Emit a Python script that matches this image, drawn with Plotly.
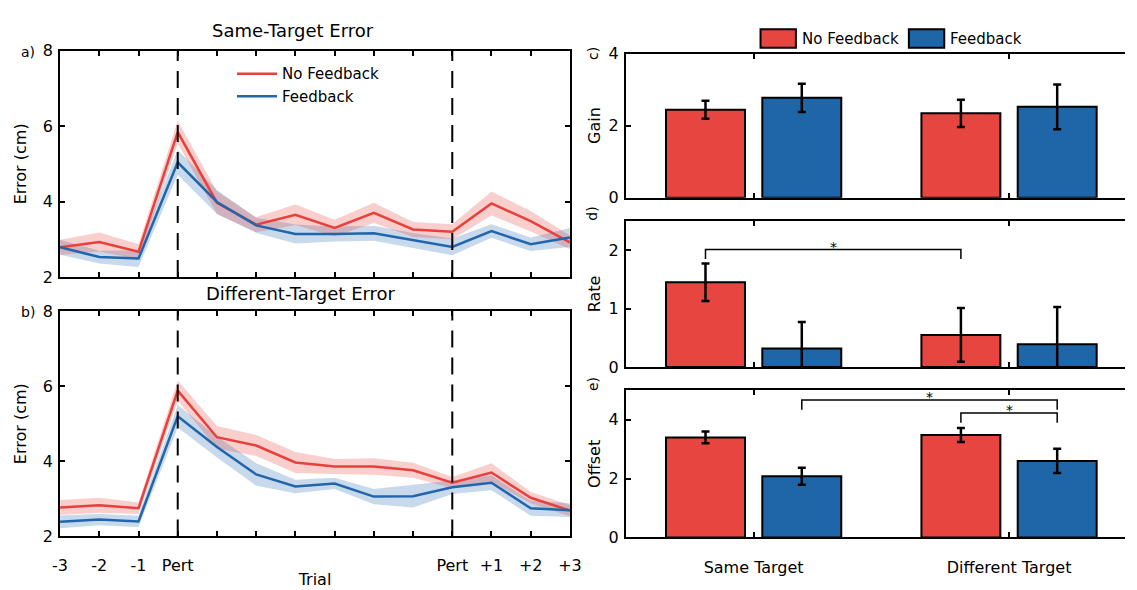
import plotly.graph_objects as go

# ---------------- data ----------------
trial_labels = ["-3", "-2", "-1", "Pert", "", "", "", "", "", "", "Pert", "+1", "+2", "+3"]
trial_idx = list(range(len(trial_labels)))
pert_positions = [3, 10]

same_nofb = [2.79, 2.93, 2.67, 5.84, 3.97, 3.39, 3.65, 3.30, 3.70, 3.26, 3.20, 3.95, 3.48, 2.92]
same_nofb_se = [0.20, 0.25, 0.20, 0.30, 0.30, 0.20, 0.27, 0.22, 0.27, 0.20, 0.20, 0.32, 0.27, 0.18]
same_fb = [2.79, 2.53, 2.49, 5.04, 3.99, 3.37, 3.14, 3.14, 3.16, 2.97, 2.80, 3.22, 2.87, 3.05]
same_fb_se = [0.20, 0.17, 0.22, 0.33, 0.32, 0.20, 0.25, 0.20, 0.20, 0.20, 0.22, 0.18, 0.18, 0.25]

diff_nofb = [2.77, 2.83, 2.75, 5.88, 4.64, 4.42, 3.97, 3.86, 3.86, 3.76, 3.43, 3.70, 3.03, 2.69]
diff_nofb_se = [0.20, 0.20, 0.15, 0.27, 0.30, 0.28, 0.28, 0.20, 0.22, 0.20, 0.15, 0.25, 0.15, 0.15]
diff_fb = [2.39, 2.45, 2.40, 5.20, 4.38, 3.65, 3.33, 3.41, 3.06, 3.07, 3.31, 3.43, 2.75, 2.70]
diff_fb_se = [0.17, 0.15, 0.15, 0.30, 0.28, 0.30, 0.18, 0.15, 0.20, 0.30, 0.18, 0.20, 0.20, 0.18]

groups = ["Same Target", "Different Target"]
gain_nofb = [2.44, 2.34]
gain_nofb_err = [0.25, 0.38]
gain_fb = [2.77, 2.52]
gain_fb_err = [0.39, 0.62]

rate_nofb = [1.45, 0.55]
rate_nofb_err = [0.32, 0.46]
rate_fb = [0.32, 0.39]
rate_fb_err = [0.45, 0.64]

offset_nofb = [3.40, 3.48]
offset_nofb_err = [0.20, 0.24]
offset_fb = [2.08, 2.60]
offset_fb_err = [0.29, 0.41]

# significance brackets: (left bar (group, series), right bar (group, series), bracket y, leg bottom y)
rate_sig = [((0, 0), (1, 0), 2.01, 1.85)]
offset_sig = [((0, 1), (1, 1), 4.67, 4.34), ((1, 0), (1, 1), 4.23, 3.90)]

# ---------------- style ----------------
RED_LINE = "#E8403A"
BLUE_LINE = "#2166AC"
RED_FILL = "rgba(232,64,58,0.25)"
BLUE_FILL = "rgba(33,102,172,0.25)"
RED_BAR = "#E6463F"
BLUE_BAR = "#1F66A8"
FONT = "DejaVu Sans"
W, H = 1137, 590

bargap = 0.246
bargroupgap = 0.18
off = (1 - bargap) / 4  # centre offset of each bar within a group

def px_x(v):
    return v / W

def px_y(v):
    return 1 - v / H

fig = go.Figure()

# ---------- left line panels ----------
def add_band(xa, ya, mean, se, fill):
    up = [m + s for m, s in zip(mean, se)]
    lo = [m - s for m, s in zip(mean, se)]
    fig.add_trace(go.Scatter(
        x=trial_idx + trial_idx[::-1], y=up + lo[::-1], fill="toself",
        fillcolor=fill, line=dict(width=0), mode="lines", hoverinfo="skip",
        showlegend=False, xaxis=xa, yaxis=ya))

for xa, ya, nofb, nofb_se, fb, fb_se, leg in [
    ("x", "y", same_nofb, same_nofb_se, same_fb, same_fb_se, True),
    ("x2", "y2", diff_nofb, diff_nofb_se, diff_fb, diff_fb_se, False),
]:
    add_band(xa, ya, fb, fb_se, BLUE_FILL)
    add_band(xa, ya, nofb, nofb_se, RED_FILL)
    fig.add_trace(go.Scatter(x=trial_idx, y=nofb, mode="lines", name="No Feedback",
                             line=dict(color=RED_LINE, width=2.5), showlegend=leg,
                             xaxis=xa, yaxis=ya))
    fig.add_trace(go.Scatter(x=trial_idx, y=fb, mode="lines", name="Feedback",
                             line=dict(color=BLUE_LINE, width=2.5), showlegend=leg,
                             xaxis=xa, yaxis=ya))

# dashed perturbation lines
for xa, ya in [("x", "y"), ("x2", "y2")]:
    for p in pert_positions:
        fig.add_shape(type="line", xref=xa, x0=p, x1=p,
                      yref=ya + " domain", y0=0, y1=1,
                      line=dict(color="black", width=2, dash="17px,10px"))

# ---------- right bar panels ----------
bar_sets = [
    ("x3", "y3", gain_nofb, gain_nofb_err, gain_fb, gain_fb_err),
    ("x4", "y4", rate_nofb, rate_nofb_err, rate_fb, rate_fb_err),
    ("x5", "y5", offset_nofb, offset_nofb_err, offset_fb, offset_fb_err),
]
for xa, ya, nf, nfe, fbv, fbe in bar_sets:
    for vals, errs, col, name in [(nf, nfe, RED_BAR, "No Feedback"), (fbv, fbe, BLUE_BAR, "Feedback")]:
        fig.add_trace(go.Bar(
            x=groups, y=vals, name=name, showlegend=False,
            marker=dict(color=col, line=dict(color="black", width=2)),
            error_y=dict(type="data", array=errs, color="black", thickness=2.5, width=4),
            xaxis=xa, yaxis=ya, offsetgroup=name))

# significance brackets
def bar_x(g, s):
    return g + (-off if s == 0 else off)

for xa, ya, sigs in [("x4", "y4", rate_sig), ("x5", "y5", offset_sig)]:
    for (lg, rg, ytop, ybot) in sigs:
        xl = bar_x(*lg)
        xr = bar_x(*rg)
        fig.add_shape(type="path", xref=xa, yref=ya,
                      path=f"M {xl},{ybot} L {xl},{ytop} L {xr},{ytop} L {xr},{ybot}",
                      line=dict(color="black", width=1.5))
        fig.add_annotation(x=(xl + xr) / 2, y=ytop, xref=xa, yref=ya, text="*",
                           showarrow=False, yanchor="bottom", yshift=-7,
                           font=dict(family=FONT, size=14, color="black"))

# custom bar legend (patches)
leg_items = [(766, 802, 806, "No Feedback", RED_BAR), (917, 953, 957, "Feedback", BLUE_BAR)]
for x0, x1, tx, label, col in leg_items:
    fig.add_shape(type="rect", xref="paper", yref="paper",
                  x0=px_x(x0), x1=px_x(x1), y0=px_y(40), y1=px_y(21),
                  fillcolor=col, line=dict(color="black", width=2))
    fig.add_annotation(x=px_x(tx), y=px_y(31), xref="paper", yref="paper", text=label,
                       showarrow=False, xanchor="left", yanchor="middle",
                       font=dict(family=FONT, size=15, color="black"))

# ---------- axes ----------
LEFT_X = [px_x(53), px_x(572)]
RIGHT_X = [px_x(629), 1.0]
tickfont = dict(family=FONT, size=16, color="black")
titlefont = dict(family=FONT, size=16, color="black")

common_axis = dict(showline=True, linecolor="black", linewidth=2, ticks="inside",
                   tickcolor="black", tickwidth=2, ticklen=5, showgrid=False,
                   zeroline=False, tickfont=tickfont)

fig.update_layout(
    xaxis=dict(common_axis, domain=LEFT_X, anchor="y", range=[0, 13],
               tickvals=trial_idx, showticklabels=False, mirror="ticks"),
    yaxis=dict(common_axis, domain=[px_y(277), px_y(43)], anchor="x", range=[2, 8],
               tickvals=[2, 4, 6, 8], mirror="ticks", ticklabelstandoff=2,
               title=dict(text="Error (cm)", font=titlefont, standoff=12)),
    xaxis2=dict(common_axis, domain=LEFT_X, anchor="y2", range=[0, 13],
                tickvals=trial_idx, ticktext=trial_labels, mirror="ticks",
                ticklabelstandoff=13,
                title=dict(text="Trial", font=titlefont, standoff=0)),
    yaxis2=dict(common_axis, domain=[px_y(545), px_y(312)], anchor="x2", range=[2, 8],
                tickvals=[2, 4, 6, 8], mirror="ticks", ticklabelstandoff=2,
                title=dict(text="Error (cm)", font=titlefont, standoff=12)),
    xaxis3=dict(common_axis, domain=RIGHT_X, anchor="y3", range=[-0.5, 1.454],
                type="category", showticklabels=False, mirror="ticks"),
    yaxis3=dict(common_axis, domain=[px_y(195), px_y(46)], anchor="x3", range=[0, 4],
                tickvals=[0, 2, 4], ticklabelstandoff=2,
                title=dict(text="Gain", font=titlefont, standoff=4)),
    xaxis4=dict(common_axis, domain=RIGHT_X, anchor="y4", range=[-0.5, 1.454],
                type="category", showticklabels=False, mirror="ticks"),
    yaxis4=dict(common_axis, domain=[px_y(370), px_y(219)], anchor="x4", range=[0, 2.5],
                tickvals=[0, 1, 2], ticklabelstandoff=2,
                title=dict(text="Rate", font=titlefont, standoff=4)),
    xaxis5=dict(common_axis, domain=RIGHT_X, anchor="y5", range=[-0.5, 1.454],
                type="category", mirror="ticks", ticklabelstandoff=14),
    yaxis5=dict(common_axis, domain=[px_y(546), px_y(394)], anchor="x5", range=[0, 5],
                tickvals=[0, 2, 4], ticklabelstandoff=2,
                title=dict(text="Offset", font=titlefont, standoff=4)),
    barmode="group", bargap=bargap, bargroupgap=bargroupgap,
    width=W, height=H, margin=dict(l=0, r=0, t=0, b=0),
    paper_bgcolor="white", plot_bgcolor="white",
    font=dict(family=FONT, size=15, color="black"),
    legend=dict(x=px_x(228), y=px_y(50), xanchor="left", yanchor="top",
                bgcolor="rgba(0,0,0,0)", font=dict(family=FONT, size=15, color="black"),
                itemwidth=40, tracegroupgap=0),
)

# titles and panel letters
for text, x, y in [("Same-Target Error", 290, 22), ("Different-Target Error", 298, 294)]:
    fig.add_annotation(x=px_x(x), y=px_y(y), xref="paper", yref="paper", text=text,
                       showarrow=False, xanchor="center", yanchor="middle",
                       font=dict(family=FONT, size=18, color="black"))
for text, x, y, ang in [("a)", 20, 44, 0), ("b)", 20, 313, 0),
                        ("c)", 595, 46, -90), ("d)", 595, 212, -90), ("e)", 595, 388, -90)]:
    fig.add_annotation(x=px_x(x), y=px_y(y), xref="paper", yref="paper", text=text,
                       showarrow=False, textangle=ang, xanchor="center", yanchor="middle",
                       font=dict(family=FONT, size=14, color="black"))

fig.write_html("out.html")
